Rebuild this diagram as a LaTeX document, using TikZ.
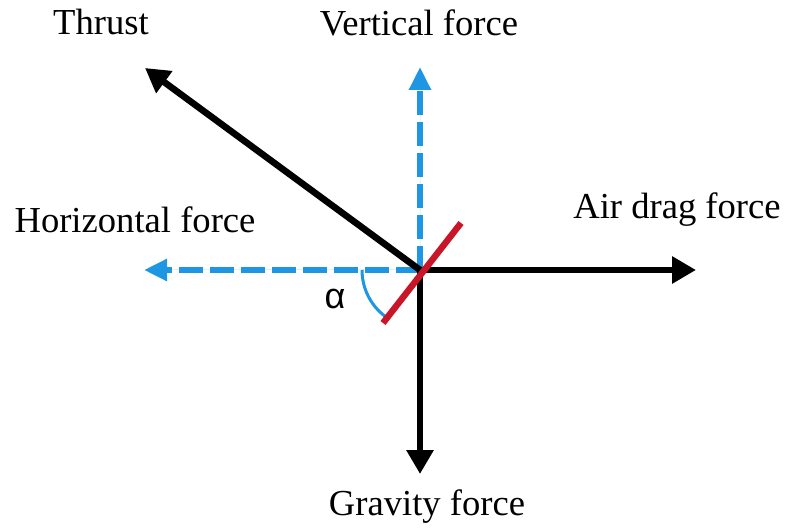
\documentclass[tikz,border=0pt]{standalone}
\usepackage{fontspec}
\setmainfont{Liberation Serif}
\newfontfamily\alphafont{Liberation Sans}
\usetikzlibrary{arrows.meta}
\definecolor{compblue}{RGB}{30,150,228}
\definecolor{wingred}{RGB}{200,22,40}

\begin{document}
\begin{tikzpicture}[x=0.5pt, y=-0.5pt,
    force/.style={-{Triangle[length=12pt,width=13pt]}, line width=3.3pt, draw=black},
    component/.style={-{Triangle[length=11.5pt,width=10.5pt]}, line width=2.8pt, draw=compblue, fill=compblue, dash pattern=on 12pt off 3.5pt},
    label/.style={font=\fontsize{18.3}{22}\selectfont, inner sep=0pt}]
    \useasboundingbox (0,0) rectangle (787,529);

    % origin and arrow tips
    \coordinate (O) at (420,270);
    \coordinate (thrusttip) at (145,68);
    \coordinate (verttip) at (420,67);
    \coordinate (horiztip) at (144,270);
    \coordinate (dragtip) at (696,270);
    \coordinate (gravtip) at (420,474);
    \coordinate (wingA) at (383,323);
    \coordinate (wingB) at (461,223);

    % labels
    \node [label] (thrust) at (101,22) {Thrust};
    \node [label] (vertical) at (419,23) {Vertical force};
    \node [label] (horizontal) at (135,220) {Horizontal force};
    \node [label] (drag) at (677,210) {Air drag force};
    \node [label] (gravity) at (427,507) {Gravity force};
    \node [label, font=\alphafont\fontsize{18}{22}\selectfont] (alpha) at (335,299) {α};

    % components
    \draw [component] (O) -- (verttip);
    \draw [component] (O) -- (horiztip);
    \draw [compblue, line width=1.5pt] (O) ++(180:58) arc [start angle=180, end angle=127, radius=58];

    % forces
    \draw [force] (O) -- (thrusttip);
    \draw [force] (O) -- (dragtip);
    \draw [force] (O) -- (gravtip);

    % wing
    \draw [wingred, line width=3.2pt] (wingA) -- (wingB);
\end{tikzpicture}
\end{document}
